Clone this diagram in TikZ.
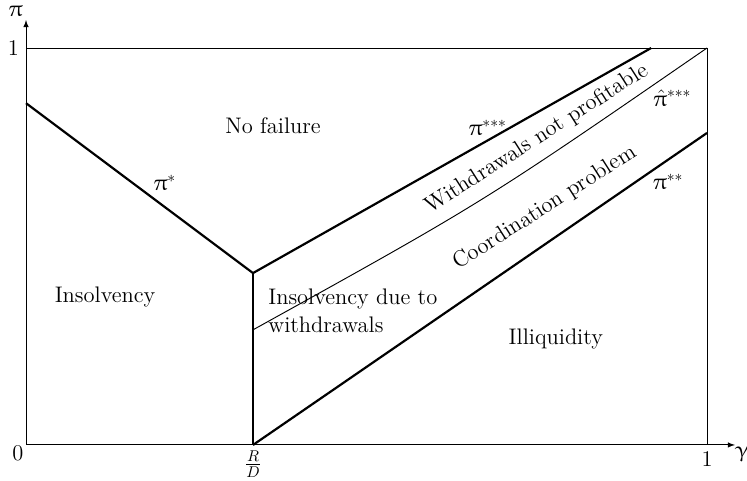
\documentclass[tikz,border=0pt]{standalone}
\usepackage{amsmath}
\usepackage{upgreek}
\usetikzlibrary{positioning}
\tikzset{%
  every bound/.style={
    line width=1.4pt
  },
  every frame/.style={
    line width=0.6pt
  },
  every region/.style={
    align=left
  },
  every threshold/.style={
    inner sep=1pt
  },
}

\begin{document}
\begin{tikzpicture}[x=15.32cm, y=8.93cm, >=latex, font=\Large]

\useasboundingbox (-0.0382,-0.0907) rectangle (1.0587,1.1209);

% Corner points
\coordinate (O) at (0,0);
\coordinate (RD) at (1/3,0);
\coordinate (one-x) at (1,0);
\coordinate (one-y) at (0,1);
\coordinate (top-right) at (1,1);
\coordinate (kink) at (1/3,0.433);
\coordinate (pistar-0) at (0,0.861);
\coordinate (pi3-end) at (0.918,1);
\coordinate (pihat-start) at (1/3,0.29);
\coordinate (pi2-end) at (1,0.786);

% Axes
\draw [->, every frame/.try] (O) -- (1.041,0) coordinate (x-end);
\draw [->, every frame/.try] (O) -- (0,1.0705) coordinate (y-end);
\draw [every frame/.try] (one-y) -- (top-right) -- (one-x);

% Boundaries
\draw [every bound/.try] (pistar-0) -- (kink);
\draw [every bound/.try] (kink) -- (RD);
\draw [every bound/.try] (kink) -- (pi3-end);
\draw [every bound/.try] (RD) -- (pi2-end);
\draw [every frame/.try] (pihat-start) .. controls (0.672,0.612) .. (top-right);

% Axis labels
\node (lab-0) at (-0.012,-0.02) {$0$};
\node [left=1pt] (lab-1y) at (one-y) {$1$};
\node [below=1pt] (lab-1x) at (one-x) {$1$};
\node [below=0pt] (lab-rd) at (RD) {$\frac{R}{D}$};
\node [anchor=north west, inner sep=0pt] (lab-gamma) at ([yshift=-1pt]x-end) {$\upgamma$};
\node [anchor=south east, inner sep=0pt] (lab-pi) at ([xshift=-2pt,yshift=2pt]y-end) {$\uppi$};

% Thresholds
\node [every threshold/.try] (pistar) at (0.204,0.66) {$\uppi^{*}$};
\node [every threshold/.try] (pi3) at (0.678,0.798) {$\uppi^{***}$};
\node [every threshold/.try] (pihat) at (0.949,0.874) {$\hat{\uppi}^{***}$};
\node [every threshold/.try] (pi2) at (0.943,0.662) {$\uppi^{**}$};

% Regions
\node [every region/.try] (nofail) at (0.3627,0.8035) {No failure};
\node [every region/.try] (insolv) at (0.116,0.373) {Insolvency};
\node [every region/.try, anchor=west, inner sep=0pt] (insolv-w) at (0.3554,0.337) {Insolvency due to\\withdrawals};
\node [every region/.try] (illiq) at (0.778,0.267) {Illiquidity};
\node [every region/.try, rotate=32.5] (notprof) at (0.750,0.771) {Withdrawals not profitable};
\node [every region/.try, rotate=32.5] (coord) at (0.762,0.597) {Coordination problem};

\end{tikzpicture}
\end{document}
